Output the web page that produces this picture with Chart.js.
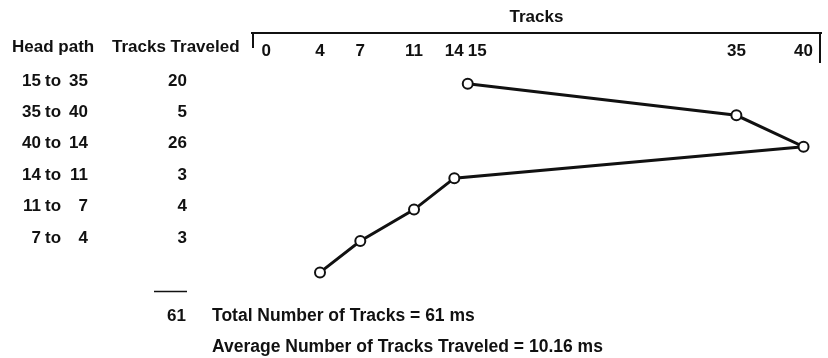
<!DOCTYPE html>
<html>
<head>
<meta charset="utf-8">
<title>Tracks</title>
<script src="https://cdn.jsdelivr.net/npm/chart.js@4.4.0/dist/chart.umd.min.js"></script>
<style>
  body { margin: 0; background: #fff; }
</style>
</head>
<body>
<canvas id="myChart" width="828" height="358"></canvas>
<script>
// order in which the head visits the tracks
const tracks = [15, 35, 40, 14, 11, 7, 4];
// tracks traveled on each move
const traveled = [20, 5, 26, 3, 4, 3];
// track numbers marked along the top
const tickTracks = [0, 4, 7, 11, 14, 15, 35, 40];

const total = traveled.reduce((a, b) => a + b, 0);
const average = Math.floor(total / traveled.length * 100) / 100;

const ink = '#111';
const family = "'Liberation Sans', Arial, sans-serif";
const font = 'bold 17px ' + family;

// head path table on the left, bracket ends, totals underneath
const tablePlugin = {
  id: 'table',
  afterDraw(chart) {
    const ctx = chart.ctx;
    const y = chart.scales.y;
    const top = chart.scales.xTitle;
    ctx.save();
    ctx.fillStyle = ink;
    ctx.strokeStyle = ink;
    ctx.font = font;
    ctx.textBaseline = 'middle';

    ctx.textAlign = 'left';
    ctx.fillText('Head path', 12, 47);
    ctx.fillText('Tracks Traveled', 112, 47);

    for (let i = 0; i < traveled.length; i++) {
      const py = y.getPixelForValue(i) - 3;
      ctx.textAlign = 'right';
      ctx.fillText(tracks[i], 41, py);
      ctx.fillText(tracks[i + 1], 88, py);
      ctx.fillText(traveled[i], 187, py);
      ctx.textAlign = 'left';
      ctx.fillText('to', 45, py);
    }

    // bracket ends of the track axis
    ctx.lineWidth = 2;
    ctx.beginPath();
    ctx.moveTo(top.left + 1, top.bottom);
    ctx.lineTo(top.left + 1, top.bottom + 15);
    ctx.moveTo(top.right - 1, top.bottom);
    ctx.lineTo(top.right - 1, top.bottom + 30);
    ctx.stroke();

    // sum line and totals
    ctx.lineWidth = 1.5;
    ctx.beginPath();
    ctx.moveTo(154, 291.5);
    ctx.lineTo(187, 291.5);
    ctx.stroke();
    ctx.textAlign = 'right';
    ctx.fillText(total, 186, 316);
    ctx.font = 'bold 17.5px ' + family;
    ctx.textAlign = 'left';
    ctx.fillText('Total Number of Tracks = ' + total + ' ms', 212, 316);
    ctx.fillText('Average Number of Tracks Traveled = ' + average.toFixed(2) + ' ms', 212, 347);
    ctx.restore();
  }
};

const tickFont = { family: family, size: 17, weight: 'bold' };

new Chart(document.getElementById('myChart'), {
  type: 'line',
  data: {
    datasets: [{
      data: tracks.map((t, i) => ({ x: t, y: i })),
      borderColor: ink,
      borderWidth: 3,
      pointRadius: 5,
      pointHoverRadius: 5,
      pointBorderWidth: 2,
      pointBorderColor: ink,
      pointBackgroundColor: '#fff',
      tension: 0,
      clip: false
    }]
  },
  options: {
    responsive: false,
    animation: false,
    events: [],
    layout: { padding: { left: 252, right: 2, top: 0, bottom: 5.4 } },
    plugins: { legend: { display: false }, tooltip: { enabled: false } },
    scales: {
      x: {
        type: 'linear',
        position: 'top',
        min: -1.063,
        max: 41.3,
        weight: 0,
        afterBuildTicks: s => { s.ticks = tickTracks.map(v => ({ value: v })); },
        afterFit: s => { s.height = 32; },
        grid: { display: false },
        border: { display: false },
        ticks: {
          autoSkip: false,
          maxRotation: 0,
          padding: -5,
          color: ink,
          font: tickFont,
          // 15 sits right next to 14, nudge its label over
          callback: v => v === 15 ? '    15' : String(v)
        }
      },
      xTitle: {
        type: 'linear',
        position: 'top',
        display: true,
        min: -1.063,
        max: 41.3,
        weight: 10,
        afterFit: s => { s.height = 33; },
        grid: { display: false },
        border: { display: true, color: ink, width: 2 },
        ticks: { display: false },
        title: { display: true, text: 'Tracks', color: ink, font: tickFont, padding: { top: 7, bottom: 0 } }
      },
      y: { type: 'linear', display: false, reverse: true, min: -0.6, max: 8.5 }
    }
  },
  plugins: [tablePlugin]
});
</script>
</body>
</html>
